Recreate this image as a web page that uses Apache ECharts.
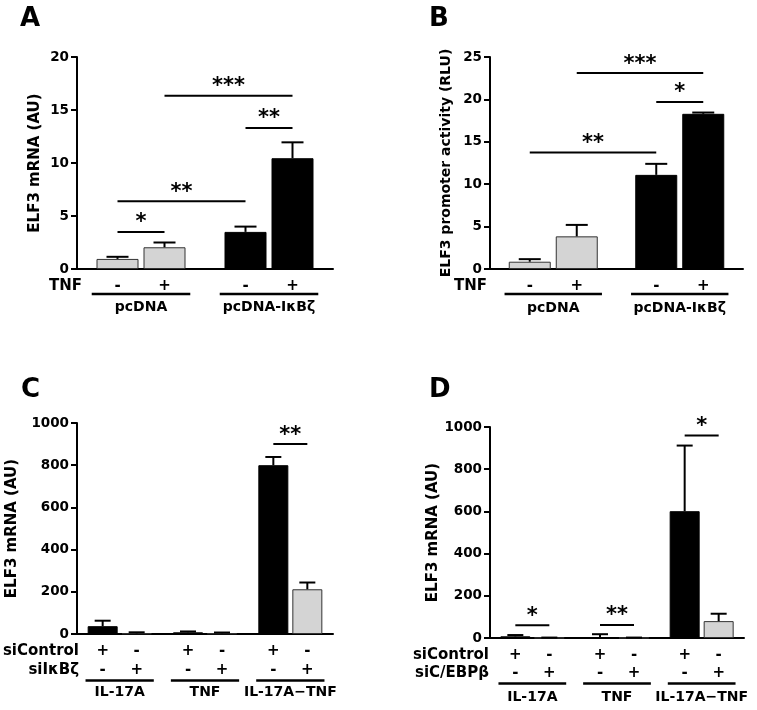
<!DOCTYPE html>
<html><head><meta charset="utf-8">
<script src="https://cdn.jsdelivr.net/npm/echarts@6/dist/echarts.min.js"></script>
<style>html,body{margin:0;padding:0;background:#fff}#c{width:757px;height:710px}</style>
</head><body><div id="c"></div>
<script>
// ---------------- DATA ----------------
// Panel A
const aGroups = ['pcDNA', 'pcDNA-IκBζ'];
const aTnfMinus = [0.95, 3.5];
const aTnfMinusErr = [0.2, 0.5];
const aTnfPlus = [2.05, 10.45];
const aTnfPlusErr = [0.45, 1.5];
const aTnfSigns = ['-', '+'];
const aSigPairs = [[0, 0, 0, 1], [0, 0, 1, 0], [0, 1, 1, 1], [1, 0, 1, 1]];
const aSigHeights = [3.5, 6.4, 16.35, 13.3];
const aSigLabels = ['*', '**', '***', '**'];
const aYMax = 20, aYStep = 5;

// Panel B
const bGroups = ['pcDNA', 'pcDNA-IκBζ'];
const bTnfMinus = [0.86, 11.1];
const bTnfMinusErr = [0.3, 1.3];
const bTnfPlus = [3.85, 18.3];
const bTnfPlusErr = [1.35, 0.15];
const bTnfSigns = ['-', '+'];
const bSigPairs = [[0, 0, 1, 0], [0, 1, 1, 1], [1, 0, 1, 1]];
const bSigHeights = [13.75, 23.1, 19.7];
const bSigLabels = ['**', '***', '*'];
const bYMax = 25, bYStep = 5;

// Panel C
const cGroups = ['IL-17A', 'TNF', 'IL-17A\u2212TNF'];
const cSiControl = [37, 8, 800];
const cSiControlErr = [26, 4, 39];
const cSiIkbz = [3, 3, 212];
const cSiIkbzErr = [5, 4, 32];
const cSiControlSigns = ['+', '-'];
const cSiIkbzSigns = ['-', '+'];
const cSigPairs = [[2, 0, 2, 1]];
const cSigHeights = [900];
const cSigLabels = ['**'];
const cYMax = 1000, cYStep = 200;

// Panel D
const dGroups = ['IL-17A', 'TNF', 'IL-17A\u2212TNF'];
const dSiControl = [8, 4, 601];
const dSiControlErr = [6, 14, 311];
const dSiCebpb = [1, 1, 80];
const dSiCebpbErr = [1, 1, 35];
const dSiControlSigns = ['+', '-'];
const dSiCebpbSigns = ['-', '+'];
const dSigPairs = [[0, 0, 0, 1], [1, 0, 1, 1], [2, 0, 2, 1]];
const dSigHeights = [60, 62, 960];
const dSigLabels = ['*', '**', '*'];
const dYMax = 1000, dYStep = 200;

// ---------------- STYLE / LAYOUT ----------------
const FF = '"DejaVu Sans", sans-serif';
const GRAY = '#d4d4d4';
const styleGray = { color: GRAY, borderColor: '#333', borderWidth: 1 };
const styleBlack = { color: '#000', borderColor: '#000', borderWidth: 1 };

const panels = [
  {
    letter: 'A', letterPos: [20, 6],
    grid: { left: 77, top: 57, width: 256, height: 212 },
    groups: aGroups, yMax: aYMax, yStep: aYStep,
    yName: 'ELF3 mRNA (AU)', nameSize: 15, nameGap: 34,
    series: [{ name: 'TNF -', values: aTnfMinus, errs: aTnfMinusErr }, { name: 'TNF +', values: aTnfPlus, errs: aTnfPlusErr }],
    colorBy: 'group', barW: 42, gapPx: 5, cap: 22,
    sig: { pairs: aSigPairs, heights: aSigHeights, labels: aSigLabels },
    rows: [{ label: 'TNF', signs: aTnfSigns, off: 17 }], rowLabelX: 82,
    lineOff: 25, underHalf: 0.385, labelMargin: 31
  },
  {
    letter: 'B', letterPos: [429, 6],
    grid: { left: 490, top: 57, width: 253, height: 212 },
    groups: bGroups, yMax: bYMax, yStep: bYStep,
    yName: 'ELF3 promoter activity (RLU)', nameSize: 14, nameGap: 37,
    series: [{ name: 'TNF -', values: bTnfMinus, errs: bTnfMinusErr }, { name: 'TNF +', values: bTnfPlus, errs: bTnfPlusErr }],
    colorBy: 'group', barW: 42, gapPx: 5, cap: 22,
    sig: { pairs: bSigPairs, heights: bSigHeights, labels: bSigLabels },
    rows: [{ label: 'TNF', signs: bTnfSigns, off: 17.4 }], rowLabelX: 487,
    lineOff: 25, underHalf: 0.385, labelMargin: 32
  },
  {
    letter: 'C', letterPos: [21, 377],
    grid: { left: 77, top: 423, width: 256, height: 211 },
    groups: cGroups, yMax: cYMax, yStep: cYStep,
    yName: 'ELF3 mRNA (AU)', nameSize: 15, nameGap: 57,
    series: [{ name: 'siControl', values: cSiControl, errs: cSiControlErr }, { name: 'siIκBζ', values: cSiIkbz, errs: cSiIkbzErr }],
    colorBy: 'series', barW: 30, gapPx: 4, cap: 16,
    sig: { pairs: cSigPairs, heights: cSigHeights, labels: cSigLabels },
    rows: [{ label: 'siControl', signs: cSiControlSigns, off: 16.7 }, { label: 'siIκBζ', signs: cSiIkbzSigns, off: 35.7 }], rowLabelX: 79,
    lineOff: 46.4, underHalf: 0.4, labelMargin: 51
  },
  {
    letter: 'D', letterPos: [429, 377],
    grid: { left: 490, top: 427, width: 254, height: 211 },
    groups: dGroups, yMax: dYMax, yStep: dYStep,
    yName: 'ELF3 mRNA (AU)', nameSize: 15, nameGap: 37,
    series: [{ name: 'siControl', values: dSiControl, errs: dSiControlErr }, { name: 'siC/EBPβ', values: dSiCebpb, errs: dSiCebpbErr }],
    colorBy: 'series', barW: 30, gapPx: 4, cap: 16,
    sig: { pairs: dSigPairs, heights: dSigHeights, labels: dSigLabels },
    rows: [{ label: 'siControl', signs: dSiControlSigns, off: 17 }, { label: 'siC/EBPβ', signs: dSiCebpbSigns, off: 35.3 }], rowLabelX: 489,
    lineOff: 45.6, underHalf: 0.4, labelMargin: 52
  }
];

function barOffset(p, j) {
  const n = p.series.length;
  return (j - (n - 1) / 2) * (p.barW + p.gapPx);
}
function styleFor(p, i, j) {
  if (p.colorBy === 'group') return i === 0 ? styleGray : styleBlack;
  return j === 0 ? styleBlack : styleGray;
}
function txt(x, y, text, size, align, valign) {
  return {
    type: 'text', x: x, y: y,
    style: { text: text, fill: '#000', font: 'bold ' + size + 'px ' + FF,
      align: align, verticalAlign: valign, textAlign: align, textVerticalAlign: valign }
  };
}

const option = { animation: false, backgroundColor: '#fff', grid: [], xAxis: [], yAxis: [], series: [], graphic: [] };

panels.forEach(function (p, k) {
  option.grid.push(Object.assign({ containLabel: false, outerBoundsMode: 'none' }, p.grid));
  option.xAxis.push({
    type: 'category', gridIndex: k, data: p.groups,
    axisLine: { show: true, onZero: false, lineStyle: { color: '#000', width: 2 } },
    axisTick: { show: false },
    axisLabel: { interval: 0, margin: p.labelMargin, color: '#000', fontFamily: FF, fontWeight: 'bold', fontSize: 14, hideOverlap: false },
    splitLine: { show: false }
  });
  option.yAxis.push({
    type: 'value', gridIndex: k, min: 0, max: p.yMax, interval: p.yStep,
    name: p.yName, nameLocation: 'middle', nameGap: p.nameGap,
    nameTextStyle: { color: '#000', fontFamily: FF, fontWeight: 'bold', fontSize: p.nameSize },
    axisLine: { show: true, lineStyle: { color: '#000', width: 2 } },
    axisTick: { show: true, length: 6, lineStyle: { color: '#000', width: 2 } },
    axisLabel: { margin: 8, color: '#000', fontFamily: FF, fontWeight: 'bold', fontSize: 13.5,
      formatter: function (v) { return String(v); } },
    splitLine: { show: false }
  });

  p.series.forEach(function (s, j) {
    option.series.push({
      type: 'bar', name: s.name, xAxisIndex: k, yAxisIndex: k,
      barWidth: p.barW, barGap: (p.gapPx / p.barW * 100) + '%',
      data: s.values.map(function (v, i) { return { value: v, itemStyle: styleFor(p, i, j) }; }),
      silent: true, z: 2
    });
    option.series.push({
      type: 'custom', xAxisIndex: k, yAxisIndex: k, silent: true, z: 3, clip: false,
      encode: { x: 0, y: 1 },
      data: s.values.map(function (v, i) { return [i, v, s.errs[i]]; }),
      renderItem: function (params, api) {
        const i = api.value(0), m = api.value(1), e = api.value(2);
        const p0 = api.coord([i, m]);
        const p1 = api.coord([i, m + e]);
        const x = p0[0] + barOffset(p, j);
        return { type: 'group', children: [
          { type: 'line', shape: { x1: x, y1: p0[1], x2: x, y2: p1[1] }, style: { stroke: '#000', lineWidth: 2 } },
          { type: 'line', shape: { x1: x - p.cap / 2, y1: p1[1], x2: x + p.cap / 2, y2: p1[1] }, style: { stroke: '#000', lineWidth: 2 } }
        ] };
      }
    });
  });

  // significance brackets
  option.series.push({
    type: 'custom', xAxisIndex: k, yAxisIndex: k, silent: true, z: 4, clip: false,
    encode: { x: 0, y: 4 },
    data: p.sig.pairs.map(function (q, n) { return [q[0], q[1], q[2], q[3], p.sig.heights[n]]; }),
    renderItem: function (params, api) {
      const h = api.value(4);
      const a = api.coord([api.value(0), h]);
      const b = api.coord([api.value(2), h]);
      const x1 = a[0] + barOffset(p, api.value(1));
      const x2 = b[0] + barOffset(p, api.value(3));
      const label = p.sig.labels[params.dataIndex];
      return { type: 'group', children: [
        { type: 'line', shape: { x1: x1, y1: a[1], x2: x2, y2: a[1] }, style: { stroke: '#000', lineWidth: 2 } },
        txt((x1 + x2) / 2, a[1] - 9, label, 21, 'center', 'middle')
      ] };
    }
  });

  // sign rows and group underlines below axis
  option.series.push({
    type: 'custom', xAxisIndex: k, yAxisIndex: k, silent: true, z: 4, clip: false,
    encode: { x: 0, y: 1 },
    data: p.groups.map(function (g, i) { return [i, 0]; }),
    renderItem: function (params, api) {
      const i = api.value(0);
      const c = api.coord([i, 0]);
      const band = api.size([1, 0])[0];
      const children = [];
      p.rows.forEach(function (r) {
        r.signs.forEach(function (sg, j) {
          children.push(txt(c[0] + barOffset(p, j), c[1] + r.off, sg, 15, 'center', 'middle'));
        });
      });
      const yl = c[1] + p.lineOff;
      children.push({ type: 'line', shape: { x1: c[0] - p.underHalf * band, y1: yl, x2: c[0] + p.underHalf * band, y2: yl }, style: { stroke: '#000', lineWidth: 2.5 } });
      return { type: 'group', children: children };
    }
  });

  // row labels & panel letters
  const axisY = p.grid.top + p.grid.height;
  p.rows.forEach(function (r) {
    option.graphic.push(txt(p.rowLabelX, axisY + r.off, r.label, 15, 'right', 'middle'));
  });
  option.graphic.push(txt(p.letterPos[0], p.letterPos[1], p.letter, 26, 'left', 'top'));
});

const chart = echarts.init(document.getElementById('c'), null, { renderer: 'canvas' });
chart.setOption(option);
</script>
</body></html>
